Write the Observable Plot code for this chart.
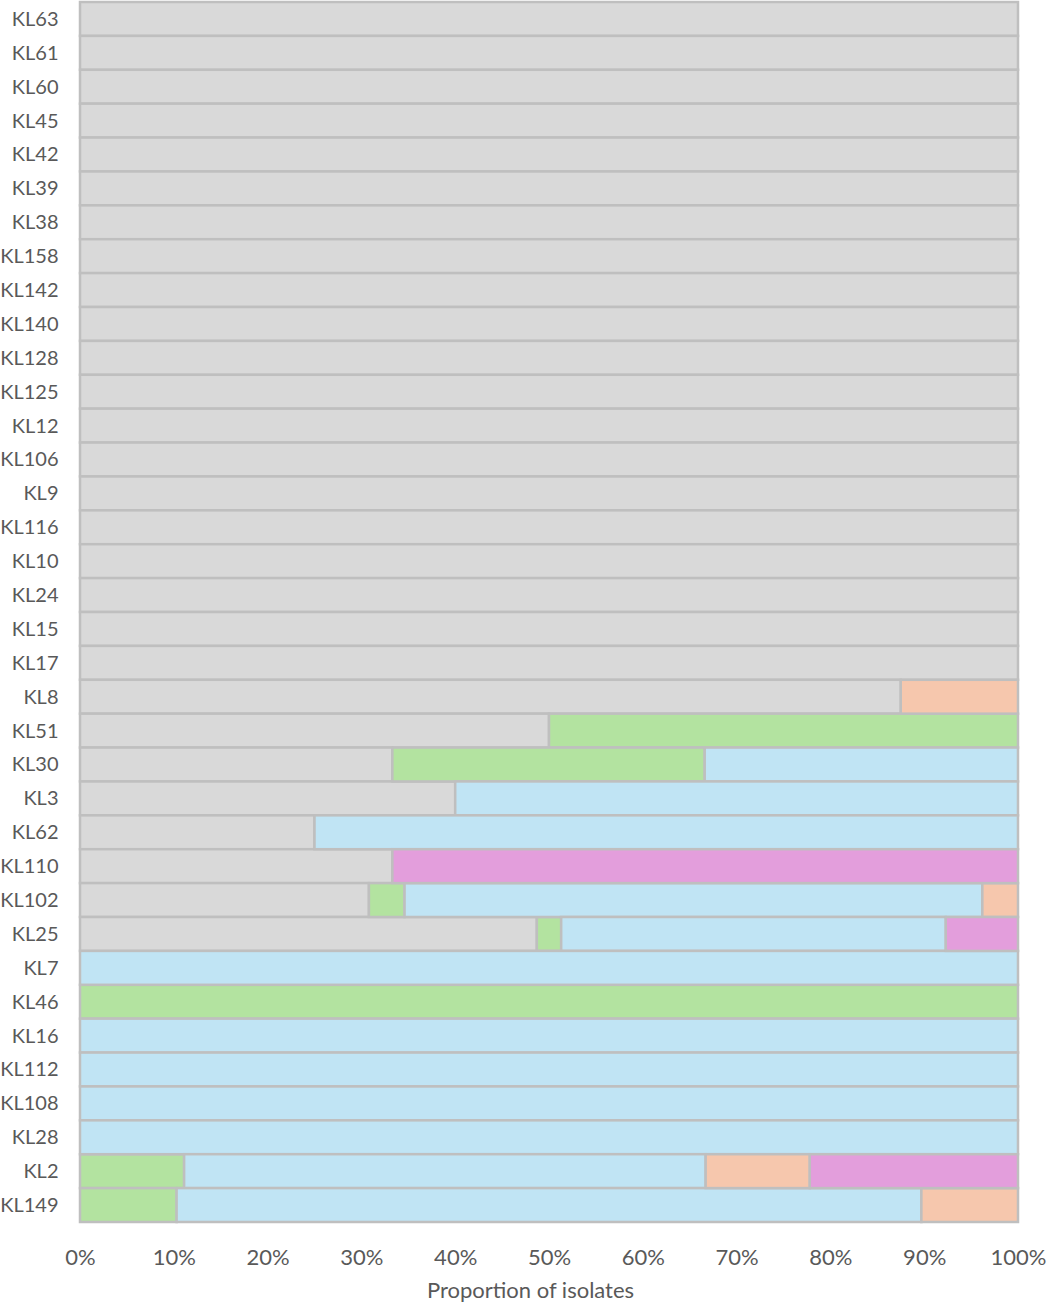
<!DOCTYPE html>
<html>
<head>
<meta charset="utf-8">
<script src="https://cdn.jsdelivr.net/npm/d3@7"></script>
<script src="https://cdn.jsdelivr.net/npm/@observablehq/plot@0.6"></script>
<style>
  html, body { margin: 0; padding: 0; background: #fff; }
  #chart svg { display: block; }
</style>
</head>
<body>
<div id="chart"></div>
<script>
const categories = ["KL63","KL61","KL60","KL45","KL42","KL39","KL38","KL158","KL142","KL140","KL128","KL125","KL12","KL106","KL9","KL116","KL10","KL24","KL15","KL17","KL8","KL51","KL30","KL3","KL62","KL110","KL102","KL25","KL7","KL46","KL16","KL112","KL108","KL28","KL2","KL149"];
const seriesNames = ["Group 1","Group 2","Group 3","Group 4","Group 5"];
const seriesColors = ["#d9d9d9","#b3e3a0","#c0e4f4","#f6c7ad","#e39edc"];

const group1Values = [100,100,100,100,100,100,100,100,100,100,100,100,100,100,100,100,100,100,100,100,87.5,50,33.3,40,25,33.3,30.8,48.7,0,0,0,0,0,0,0,0];
const group2Values = [0,0,0,0,0,0,0,0,0,0,0,0,0,0,0,0,0,0,0,0,0,50,33.3,0,0,0,3.8,2.6,0,100,0,0,0,0,11.1,10.3];
const group3Values = [0,0,0,0,0,0,0,0,0,0,0,0,0,0,0,0,0,0,0,0,0,0,33.4,60,75,0,61.6,41.0,100,0,100,100,100,100,55.6,79.4];
const group4Values = [0,0,0,0,0,0,0,0,0,0,0,0,0,0,0,0,0,0,0,0,12.5,0,0,0,0,0,3.8,0,0,0,0,0,0,0,11.1,10.3];
const group5Values = [0,0,0,0,0,0,0,0,0,0,0,0,0,0,0,0,0,0,0,0,0,0,0,0,0,66.7,0,7.7,0,0,0,0,0,0,22.2,0];
const xTicks = [0,10,20,30,40,50,60,70,80,90,100];
const xLabel = "Proportion of isolates";

const seriesValues = [group1Values, group2Values, group3Values, group4Values, group5Values];
const data = [];
seriesNames.forEach((s, si) => {
  categories.forEach((c, ci) => {
    const v = seriesValues[si][ci];
    if (v > 0) data.push({category: c, series: s, value: v});
  });
});

const chart = Plot.plot({
  width: 1052,
  height: 1306,
  marginLeft: 80,
  marginRight: 34,
  marginTop: 2,
  marginBottom: 84,
  style: {fontFamily: "Lato, 'Open Sans', sans-serif", fontSize: "22px", color: "#595959", background: "#fff"},
  x: {domain: [0, 100]},
  y: {domain: categories, padding: 0},
  color: {type: "ordinal", domain: seriesNames, range: seriesColors},
  marks: [
    Plot.barX(data, Plot.stackX({
      x: "value", y: "category", fill: "series", z: "series",
      order: seriesNames,
      stroke: "#bfbfbf", strokeWidth: 2.5, inset: 0
    })),
    Plot.axisY({tickSize: 0, tickPadding: 22, label: null, fontSize: 20}),
    Plot.axisX({ticks: xTicks, tickFormat: d => d + "%", tickSize: 0, tickPadding: 27, label: null, fontSize: 22}),
    Plot.text([xLabel], {text: d => d, frameAnchor: "bottom", dy: 75, dx: -19, fontSize: 22, fill: "#595959"})
  ]
});
document.getElementById("chart").appendChild(chart);
</script>
</body>
</html>
